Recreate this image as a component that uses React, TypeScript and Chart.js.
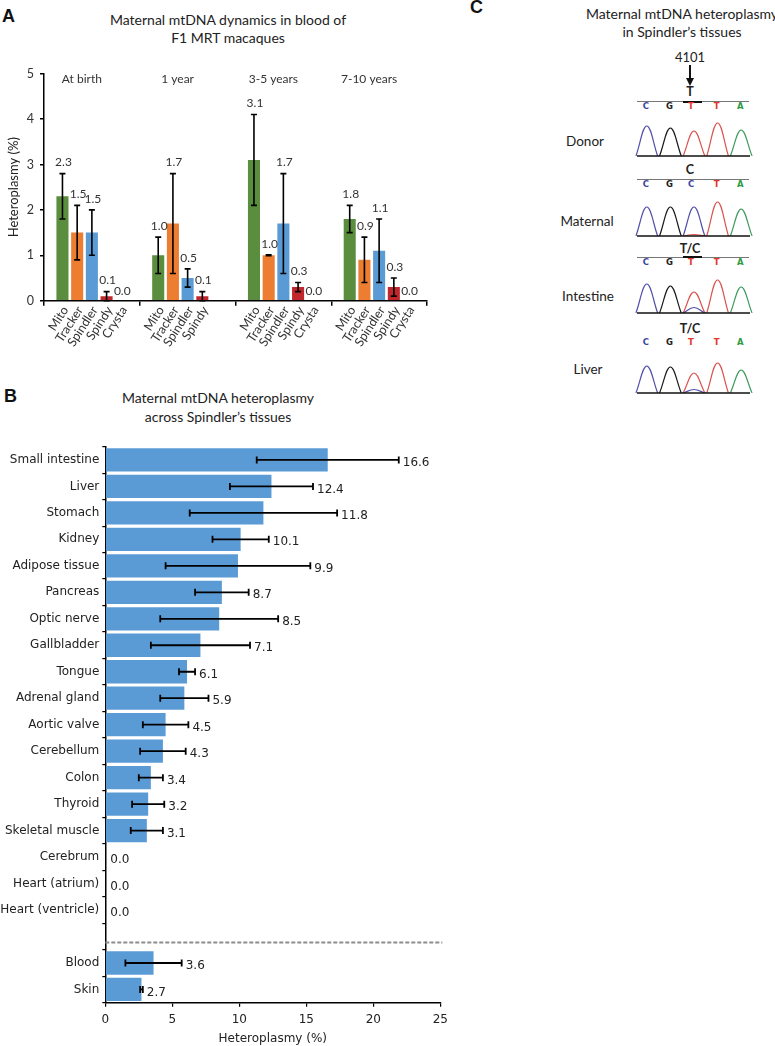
import React, { useEffect, useRef } from 'react';
import { Chart, registerables } from 'chart.js';
Chart.register(...registerables);

// ---------- Panel A data ----------
const timePoints = ['At birth', '1 year', '3-5 years', '7-10 years'];
const animals = ['Mito', 'Tracker', 'Spindler', 'Spindy', 'Crysta'];
const mitoValues = [2.3, 1.0, 3.1, 1.8];
const mitoErrors = [0.5, 0.4, 1.0, 0.3];
const trackerValues = [1.5, 1.7, 1.0, 0.9];
const trackerErrors = [0.6, 1.1, 0.01, 0.5];
const spindlerValues = [1.5, 0.5, 1.7, 1.1];
const spindlerErrors = [0.5, 0.2, 1.1, 0.7];
const spindyValues = [0.1, 0.1, 0.3, 0.3];
const spindyErrors = [0.1, 0.1, 0.1, 0.2];
const crystaValues = [0.0, null, 0.0, 0.0];
const crystaErrors = [0, null, 0, 0];
const animalColors = ['#5A8E3E', '#ED7D31', '#5B9BD5', '#C0272D', '#7F7F7F'];
const yMinA = 0;
const yMaxA = 5;

// ---------- Panel B data ----------
const tissues = [
  'Small intestine', 'Liver', 'Stomach', 'Kidney', 'Adipose tissue', 'Pancreas', 'Optic nerve',
  'Gallbladder', 'Tongue', 'Adrenal gland', 'Aortic valve', 'Cerebellum', 'Colon', 'Thyroid',
  'Skeletal muscle', 'Cerebrum', 'Heart (atrium)', 'Heart (ventricle)', '', 'Blood', 'Skin',
];
const tissueValues = [16.6, 12.4, 11.8, 10.1, 9.9, 8.7, 8.5, 7.1, 6.1, 5.9, 4.5, 4.3, 3.4, 3.2, 3.1, 0.0, 0.0, 0.0, null, 3.6, 2.7];
const tissueErrors = [5.3, 3.1, 5.5, 2.1, 5.4, 2.0, 4.4, 3.7, 0.6, 1.8, 1.7, 1.7, 0.9, 1.2, 1.2, 0, 0, 0, null, 2.1, 0.1];
const separatorIndex = 18;
const xMinB = 0;
const xMaxB = 25;

// ---------- Panel C data ----------
const donorCalls = ['C', 'G', 'T', 'T', 'A'];
const donorPeaks = [30, 28, 25, 33, 26];
const maternalCalls = ['C', 'G', 'C', 'T', 'A'];
const maternalPeaks = [29, 29, 29, 34, 27];
const maternalMinorCalls = [null, null, 'T', null, null];
const maternalMinorPeaks = [null, null, 1.5, null, null];
const intestineCalls = ['C', 'G', 'T', 'T', 'A'];
const intestinePeaks = [29, 27, 21, 33, 26];
const intestineMinorCalls = [null, null, 'C', null, null];
const intestineMinorPeaks = [null, null, 5.5, null, null];
const liverCalls = ['C', 'G', 'T', 'T', 'A'];
const liverPeaks = [27, 26, 20, 30, 23];
const liverMinorCalls = [null, null, 'C', null, null];
const liverMinorPeaks = [null, null, 3.5, null, null];

const peakColors: Record<string, string> = { C: '#5050AA', G: '#1a1a1a', T: '#D9534F', A: '#3F9A60' };
const letterColors: Record<string, string> = { C: '#3A46A0', G: '#222', T: '#E2352C', A: '#2F9C45' };

const LATO = 'Lato';
const DEJAVU = 'DejaVu Sans';

function Txt({ x, y, children, size = 14, weight = 400, family = LATO, color = '#222', align = 'center' }: any) {
  const tx = align === 'center' ? '-50%' : align === 'right' ? '-100%' : '0';
  return (
    <div
      style={{
        position: 'absolute', left: x, top: y, transform: `translate(${tx},-50%)`,
        fontSize: size, fontWeight: weight, fontFamily: family, color, whiteSpace: 'nowrap', lineHeight: 1,
      }}
    >
      {children}
    </div>
  );
}

function PanelA() {
  const ref = useRef<HTMLCanvasElement>(null);
  useEffect(() => {
    const series = [
      { values: mitoValues, errors: mitoErrors },
      { values: trackerValues, errors: trackerErrors },
      { values: spindlerValues, errors: spindlerErrors },
      { values: spindyValues, errors: spindyErrors },
      { values: crystaValues, errors: crystaErrors },
    ];
    const overlay = {
      id: 'overlayA',
      afterDatasetsDraw(chart: any) {
        const ctx = chart.ctx;
        const ys = chart.scales.y;
        const xs = chart.scales.x;
        const bottom = chart.chartArea.bottom;
        ctx.save();
        series.forEach((s, i) => {
          const meta = chart.getDatasetMeta(i);
          s.values.forEach((v: any, j: number) => {
            if (v === null || v === undefined) return;
            const el = meta.data[j];
            const x = el.x;
            const e = s.errors[j] as number;
            let labelY;
            if (v > 0) {
              const yt = ys.getPixelForValue(v + e);
              const yb = ys.getPixelForValue(Math.max(0, v - e));
              ctx.strokeStyle = '#000';
              ctx.lineWidth = 1.6;
              ctx.beginPath();
              ctx.moveTo(x, yt); ctx.lineTo(x, yb);
              ctx.moveTo(x - 3, yt); ctx.lineTo(x + 3, yt);
              ctx.moveTo(x - 3, yb); ctx.lineTo(x + 3, yb);
              ctx.stroke();
              labelY = yt - 11;
            } else {
              labelY = bottom - 10;
            }
            ctx.fillStyle = '#333';
            ctx.font = `12px ${LATO}`;
            ctx.textAlign = 'center';
            ctx.textBaseline = 'middle';
            ctx.fillText(v.toFixed(1), x + 1, labelY);
            // rotated animal name
            ctx.save();
            ctx.translate(x + 3, bottom + 7);
            ctx.rotate(-57 * Math.PI / 180);
            ctx.textAlign = 'right';
            ctx.textBaseline = 'middle';
            ctx.font = `12.5px ${LATO}`;
            ctx.fillText(animals[i], 0, 0);
            ctx.restore();
          });
        });
        // group labels
        ctx.fillStyle = '#333';
        ctx.font = `12px ${LATO}`;
        ctx.textAlign = 'center';
        ctx.textBaseline = 'middle';
        timePoints.forEach((t, j) => {
          ctx.fillText(t, xs.getPixelForValue(j) - 10, ys.getPixelForValue(yMaxA) + 5);
        });
        ctx.restore();
      },
    };
    const chart = new Chart(ref.current!, {
      type: 'bar',
      data: {
        labels: timePoints,
        datasets: series.map((s, i) => ({
          label: animals[i],
          data: s.values as any,
          backgroundColor: animalColors[i],
          borderWidth: 0,
          categoryPercentage: 0.768,
          barPercentage: 0.82,
        })),
      },
      options: {
        responsive: false,
        animation: false,
        layout: { padding: { top: 73.7, right: 13, left: 0, bottom: 0 } },
        plugins: { legend: { display: false }, tooltip: { enabled: false } },
        scales: {
          x: {
            ticks: { display: false },
            grid: { offset: true, drawOnChartArea: false, drawTicks: true, tickLength: 5, color: '#000', lineWidth: 1.5 },
            border: { color: '#000', width: 1.5 },
            afterFit: (s: any) => { s.height = 49.3; },
          },
          y: {
            min: yMinA, max: yMaxA,
            ticks: { stepSize: 1, color: '#333', font: { family: LATO, size: 12.5 }, padding: 6 },
            grid: { drawOnChartArea: false, drawTicks: true, tickLength: 4, color: '#000', lineWidth: 1.5 },
            border: { color: '#000', width: 1.5 },
            title: { display: true, text: 'Heteroplasmy (%)', color: '#222', font: { family: LATO, size: 13 }, padding: { top: 6, bottom: 0 } },
            afterFit: (s: any) => { s.width = 44; },
          },
        },
      },
      plugins: [overlay],
    });
    return () => chart.destroy();
  }, []);
  return <canvas ref={ref} width={440} height={350} style={{ position: 'absolute', left: 0, top: 0 }} />;
}

function PanelB() {
  const ref = useRef<HTMLCanvasElement>(null);
  useEffect(() => {
    const overlay = {
      id: 'overlayB',
      afterDatasetsDraw(chart: any) {
        const ctx = chart.ctx;
        const xs = chart.scales.x;
        const ys = chart.scales.y;
        const area = chart.chartArea;
        ctx.save();
        const meta = chart.getDatasetMeta(0);
        tissueValues.forEach((v, j) => {
          if (v === null) return;
          const y = meta.data[j].y;
          const e = tissueErrors[j] as number;
          let lx;
          if (v > 0) {
            const xl = xs.getPixelForValue(v - e);
            const xr = xs.getPixelForValue(v + e);
            ctx.strokeStyle = '#000';
            ctx.lineWidth = 1.8;
            ctx.beginPath();
            ctx.moveTo(xl, y); ctx.lineTo(xr, y);
            ctx.moveTo(xl, y - 3.5); ctx.lineTo(xl, y + 3.5);
            ctx.moveTo(xr, y - 3.5); ctx.lineTo(xr, y + 3.5);
            ctx.stroke();
            lx = xr + 4;
          } else {
            lx = xs.getPixelForValue(0) + 5;
          }
          ctx.fillStyle = '#222';
          ctx.font = `12px ${DEJAVU}`;
          ctx.textAlign = 'left';
          ctx.textBaseline = 'middle';
          ctx.fillText(v.toFixed(1), lx, y + 3);
        });
        // dashed separator
        const sy = ys.getPixelForValue(separatorIndex) + 6;
        ctx.strokeStyle = '#8C8C8C';
        ctx.lineWidth = 2;
        ctx.setLineDash([4, 2]);
        ctx.beginPath();
        ctx.moveTo(area.left, sy);
        ctx.lineTo(area.right + 2, sy);
        ctx.stroke();
        ctx.restore();
      },
    };
    const chart = new Chart(ref.current!, {
      type: 'bar',
      data: {
        labels: tissues,
        datasets: [{
          data: tissueValues as any,
          backgroundColor: '#5B9BD5',
          borderWidth: 0,
          categoryPercentage: 1,
          barPercentage: 0.88,
        }],
      },
      options: {
        indexAxis: 'y',
        responsive: false,
        animation: false,
        layout: { padding: { top: 16.7, right: 29.7, left: 0, bottom: 0 } },
        plugins: { legend: { display: false }, tooltip: { enabled: false } },
        scales: {
          y: {
            ticks: { autoSkip: false, color: '#222', font: { family: DEJAVU, size: 12 }, padding: 3 },
            grid: { offset: true, drawOnChartArea: false, drawTicks: true, tickLength: 3, color: '#000', lineWidth: 1.2 },
            border: { color: '#000', width: 1.5 },
            afterFit: (s: any) => { s.width = 105.3; },
          },
          x: {
            min: xMinB, max: xMaxB,
            ticks: { stepSize: 5, color: '#222', font: { family: DEJAVU, size: 12 }, padding: 6 },
            grid: { drawOnChartArea: false, drawTicks: true, tickLength: 4, color: '#000', lineWidth: 1.2 },
            border: { color: '#000', width: 1.5 },
            title: { display: true, text: 'Heteroplasmy (%)', color: '#222', font: { family: DEJAVU, size: 12 }, padding: { top: 4, bottom: 0 } },
            afterFit: (s: any) => { s.height = 43.3; },
          },
        },
      },
      plugins: [overlay],
    });
    return () => chart.destroy();
  }, []);
  return <canvas ref={ref} width={470} height={616} style={{ position: 'absolute', left: 0, top: 430 }} />;
}

const traceLeft = 635;
const traceWidth = 118;
const traceXMin = -0.5;
const traceXMax = 4.5;
const baseX = (i: number) => traceLeft + ((i - traceXMin) / (traceXMax - traceXMin)) * traceWidth;

function Trace({ baseline, calls, peaks, minorCalls, minorPeaks }: any) {
  const ref = useRef<HTMLCanvasElement>(null);
  useEffect(() => {
    const datasets: any[] = [];
    const addPeak = (b: string, i: number, h: number) => {
      datasets.push({
        data: [{ x: i - 0.46, y: 0 }, { x: i, y: h }, { x: i + 0.46, y: 0 }],
        borderColor: peakColors[b],
        borderWidth: 1.2,
        pointRadius: 0,
        tension: 0.4,
        fill: false,
      });
    };
    if (minorCalls) minorCalls.forEach((b: any, i: number) => { if (b) addPeak(b, i, minorPeaks[i]); });
    calls.forEach((b: string, i: number) => addPeak(b, i, peaks[i]));
    const baseLine = {
      id: 'baseLine',
      afterDatasetsDraw(chart: any) {
        const ctx = chart.ctx;
        const a = chart.chartArea;
        ctx.save();
        ctx.strokeStyle = '#111';
        ctx.lineWidth = 1.6;
        ctx.beginPath();
        ctx.moveTo(a.left + 2, a.bottom);
        ctx.lineTo(a.right - 3, a.bottom);
        ctx.stroke();
        ctx.restore();
      },
    };
    const chart = new Chart(ref.current!, {
      type: 'line',
      data: { datasets },
      options: {
        responsive: false,
        animation: false,
        layout: { padding: { top: 2, bottom: 2, left: 0, right: 0 } },
        plugins: { legend: { display: false }, tooltip: { enabled: false } },
        scales: {
          x: { type: 'linear', display: false, min: traceXMin, max: traceXMax },
          y: { display: false, min: 0, max: 36 },
        },
      },
      plugins: [baseLine],
    });
    return () => chart.destroy();
  }, []);
  return <canvas ref={ref} width={traceWidth} height={40} style={{ position: 'absolute', left: traceLeft, top: baseline - 38 }} />;
}

function SeqRow({ y, calls, lineY, mark }: any) {
  return (
    <>
      {lineY !== undefined && (
        <div style={{ position: 'absolute', left: 637, top: lineY, width: 112, height: 1, background: '#777' }} />
      )}
      {mark && lineY !== undefined && (
        <div style={{ position: 'absolute', left: 683, top: lineY - 0.5, width: 19, height: 2, background: '#111' }} />
      )}
      {calls.map((b: string, i: number) => (
        <Txt key={i} x={baseX(i) - (i === 2 ? 3 : 1)} y={y} size={8.5} weight={700} family={DEJAVU} color={letterColors[b]}>{b}</Txt>
      ))}
    </>
  );
}

export default function App() {
  return (
    <div style={{ position: 'absolute', left: 0, top: 0, width: 775, height: 1046, background: '#fff', overflow: 'hidden' }}>
      {/* Panel A */}
      <Txt x={2} y={16} size={18} weight={700} family="Liberation Sans" color="#111" align="left">A</Txt>
      <Txt x={228} y={20} size={14}>Maternal mtDNA dynamics in blood of</Txt>
      <Txt x={228} y={38} size={14}>F1 MRT macaques</Txt>
      <PanelA />

      {/* Panel B */}
      <Txt x={4} y={396} size={18} weight={700} family="Liberation Sans" color="#111" align="left">B</Txt>
      <Txt x={218} y={398} size={14}>Maternal mtDNA heteroplasmy</Txt>
      <Txt x={218} y={417} size={14}>across Spindler’s tissues</Txt>
      <PanelB />

      {/* Panel C */}
      <Txt x={470} y={7} size={18} weight={700} family="Liberation Sans" color="#111" align="left">C</Txt>
      <Txt x={682} y={14} size={14}>Maternal mtDNA heteroplasmy</Txt>
      <Txt x={682} y={32} size={14}>in Spindler’s tissues</Txt>
      <Txt x={690} y={57} size={13}>4101</Txt>
      <div style={{ position: 'absolute', left: 689, top: 65, width: 2, height: 14, background: '#111' }} />
      <div style={{ position: 'absolute', left: 686, top: 78, width: 0, height: 0, borderLeft: '4px solid transparent', borderRight: '4px solid transparent', borderTop: '8px solid #111' }} />
      <Txt x={690} y={92} size={12.5} weight={700}>T</Txt>
      <SeqRow y={106} calls={donorCalls} lineY={101} mark />
      <Txt x={585} y={142} size={13.5}>Donor</Txt>
      <Trace baseline={156} calls={donorCalls} peaks={donorPeaks} />

      <Txt x={690} y={170} size={12.5} weight={700}>C</Txt>
      <SeqRow y={183.5} calls={maternalCalls} lineY={179} />
      <Txt x={587} y={222} size={13.5}>Maternal</Txt>
      <Trace baseline={235.7} calls={maternalCalls} peaks={maternalPeaks} minorCalls={maternalMinorCalls} minorPeaks={maternalMinorPeaks} />

      <Txt x={690} y={249} size={12.5} weight={700}>T/C</Txt>
      <SeqRow y={261.7} calls={intestineCalls} lineY={256.5} mark />
      <Txt x={588} y={297} size={13.5}>Intestine</Txt>
      <Trace baseline={313.3} calls={intestineCalls} peaks={intestinePeaks} minorCalls={intestineMinorCalls} minorPeaks={intestineMinorPeaks} />

      <Txt x={690} y={329} size={12.5} weight={700}>T/C</Txt>
      <SeqRow y={341.7} calls={liverCalls} />
      <Txt x={588} y={370} size={13.5}>Liver</Txt>
      <Trace baseline={392.7} calls={liverCalls} peaks={liverPeaks} minorCalls={liverMinorCalls} minorPeaks={liverMinorPeaks} />
    </div>
  );
}
